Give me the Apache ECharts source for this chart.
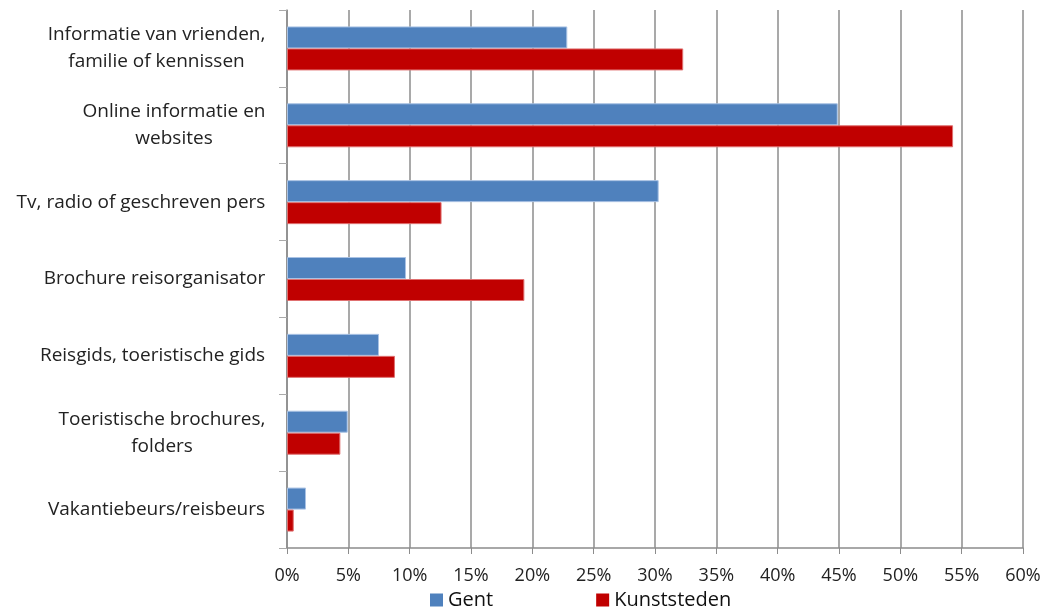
<!DOCTYPE html>
<html>
<head>
<meta charset="utf-8">
<script src="https://cdn.jsdelivr.net/npm/echarts@6/dist/echarts.min.js"></script>
<style>html,body{margin:0;padding:0;background:#fff}#c{width:1044px;height:610px}</style>
</head>
<body>
<div id="c"></div>
<script>
const categories = [
  "Informatie van vrienden,\nfamilie of kennissen",
  "Online informatie en\nwebsites",
  "Tv, radio of geschreven pers",
  "Brochure reisorganisator",
  "Reisgids, toeristische gids",
  "Toeristische brochures,\nfolders",
  "Vakantiebeurs/reisbeurs"
];
const gent = [22.85, 44.9, 30.3, 9.7, 7.5, 4.95, 1.55];
const kunststeden = [32.3, 54.3, 12.6, 19.35, 8.8, 4.35, 0.55];
const xTicks = [0, 5, 10, 15, 20, 25, 30, 35, 40, 45, 50, 55, 60];

const font = "'Open Sans', 'Noto Sans', sans-serif";
const labelSize = 19;
// build rich styles so each multi-line label is right-aligned as a block with centered lines
const ctx = document.createElement('canvas').getContext('2d');
ctx.font = labelSize + "px 'Open Sans'";
const rich = {};
categories.forEach((c, i) => {
  const w = Math.max(...c.split('\n').map(l => ctx.measureText(l).width));
  rich['r' + i] = {width: Math.ceil(w) + 1, align: 'center', fontSize: labelSize, fontFamily: font, color: '#222', lineHeight: 27};
});

const chart = echarts.init(document.getElementById('c'));
chart.setOption({
  animation: false,
  textStyle: {fontFamily: font},
  grid: {left: 287, right: 21, top: 10, bottom: 62},
  legend: {
    bottom: 0, left: 430, padding: 0,
    itemWidth: 13, itemHeight: 13, itemGap: 103,
    icon: 'rect',
    itemStyle: {borderWidth: 0},
    textStyle: {fontSize: 20, color: '#111', fontFamily: font},
    data: ['Gent', 'Kunststeden']
  },
  xAxis: {
    type: 'value', min: xTicks[0], max: xTicks[xTicks.length-1], interval: 5,
    axisLine: {show: true, lineStyle: {color: '#8c8c8c', width: 1.5}},
    axisTick: {show: true, length: 6, lineStyle: {color: '#8c8c8c'}},
    axisLabel: {formatter: '{value}%', fontSize: 18, color: '#222', margin: 19},
    splitLine: {show: true, lineStyle: {color: '#8c8c8c', width: 1.5}}
  },
  yAxis: {
    type: 'category', data: categories, inverse: true,
    axisLine: {show: true, lineStyle: {color: '#8c8c8c', width: 1.5}},
    axisTick: {show: true, length: 8, lineStyle: {color: '#aaa'}},
    axisLabel: {fontSize: labelSize, color: '#222', margin: 21, align: 'right', lineHeight: 27, rich: rich,
      formatter: (v, i) => v.split('\n').map(l => '{r' + i + '|' + l + '}').join('\n')},
  },
  series: [
    {name: 'Gent', type: 'bar', data: gent, barWidth: 22, barGap: '0%',
      itemStyle: {color: '#4F81BD', borderColor: '#a9c2e4', borderWidth: 1}},
    {name: 'Kunststeden', type: 'bar', data: kunststeden, barWidth: 22,
      itemStyle: {color: '#C00000', borderColor: '#e07070', borderWidth: 1}}
  ]
});
</script>
</body>
</html>
